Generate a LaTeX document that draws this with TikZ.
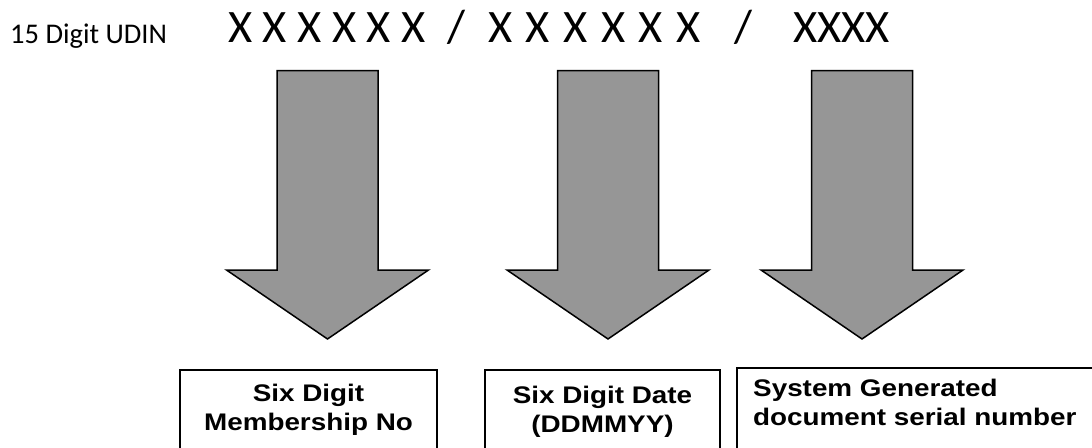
\documentclass[tikz,border=0pt]{standalone}
\usepackage{fontspec}
\usepackage{xcolor}
\setmainfont{Carlito}
\newfontfamily\boxfont[FakeStretch=1.16]{Liberation Sans}
\definecolor{arrowgray}{RGB}{150,150,150}

\tikzset{
    blockarrow/.style={draw=black, fill=arrowgray, line width=1.5pt, line join=miter},
    fieldbox/.style={draw=black, line width=1.4pt},
    fieldtext/.style={inner sep=0pt, font=\boxfont\bfseries\fontsize{24}{29}\selectfont},
    codetext/.style={inner sep=0pt, anchor=base west, font=\fontsize{46.5}{52}\selectfont}
}

\begin{document}
\begin{tikzpicture}[x=1pt, y=-1pt]
            \useasboundingbox (0, 0) rectangle (1092, 447);
            \node[inner sep=0pt, anchor=base west, font=\fontsize{28.5}{33}\selectfont] (udin) at (10, 43) {15 Digit UDIN};
            \node[codetext] (member) at (228, 42) {X X X X X X};
            \node[codetext] (slashA) at (447, 42) {/};
            \node[codetext] (date) at (488, 42) {\spaceskip=0.29em X X X X X X};
            \node[codetext] (slashB) at (734, 42) {/};
            \node[codetext] (serial) at (793, 42) {XXXX};
            % block arrows
            \foreach \c in {327.5, 608, 862} {
                \draw[blockarrow] (\c-50.5, 70.7) -- (\c+50.5, 70.7) -- (\c+50.5, 270) -- (\c+101, 270)
                    -- (\c, 339) -- (\c-101, 270) -- (\c-50.5, 270) -- cycle;
            }
            % boxes, cut off at the bottom
            \draw[fieldbox] (180, 370) rectangle (437, 470);
            \draw[fieldbox] (485, 370) rectangle (720, 470);
            \draw[fieldbox] (737, 368) rectangle (1110, 470);
            \node[fieldtext, align=center] (membox) at (308.5, 410) {Six Digit\\Membership No};
            \node[fieldtext, align=center] (datebox) at (602.5, 412) {Six Digit Date\\(DDMMYY)};
            \node[fieldtext, align=left, anchor=west] (serialbox) at (753, 402) {System Generated\\document serial number};
        \end{tikzpicture}
\end{document}
